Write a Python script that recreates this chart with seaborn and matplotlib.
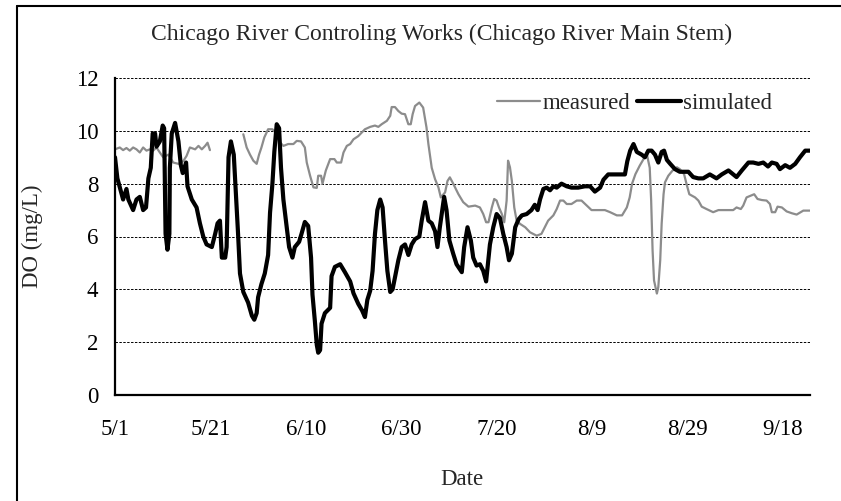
import numpy as np
import pandas as pd
import matplotlib
matplotlib.use('Agg')
import matplotlib.pyplot as plt
from matplotlib.lines import Line2D
import seaborn as sns

# --- data (days after 5/1, DO in mg/L) ---
start = pd.Timestamp('2001-05-01')
tick_days = [0, 20, 40, 60, 80, 100, 120, 140]
tick_labels = ['5/1', '5/21', '6/10', '6/30', '7/20', '8/9', '8/29', '9/18']

sim_day = [0.0, 0.5, 1.7, 2.4, 2.8, 3.8, 4.5, 5.2, 5.9, 6.5, 7.0, 7.5, 7.9, 8.4, 8.7, 9.4,
           10.0, 10.3, 10.6, 11.0, 11.4, 11.5, 11.9, 12.6, 13.3, 13.8, 14.2, 14.9, 15.2, 16.1,
           17.1, 17.8, 18.5, 19.2, 20.3, 21.0, 21.5, 22.0, 22.4, 23.1, 23.4, 23.8, 24.3, 24.9,
           25.8, 26.2, 26.9, 27.9, 28.7, 29.2, 29.7, 30.0, 30.7, 31.4, 32.1, 32.5, 33.0, 33.4,
           33.9, 34.4, 34.8, 35.3, 36.0, 36.5, 37.2, 37.7, 38.6, 39.1, 39.8, 40.5, 41.1, 41.4,
           41.9, 42.3, 42.6, 43.0, 43.3, 44.0, 45.1, 45.4, 46.1, 47.2, 48.2, 49.3, 50.0, 51.0,
           51.8, 52.4, 52.9, 53.5, 54.0, 54.5, 55.0, 55.6, 56.1, 56.6, 57.1, 57.7, 58.2, 58.7,
           59.4, 60.1, 60.8, 61.5, 62.2, 62.9, 63.8, 64.3, 65.0, 65.7, 66.4, 67.1, 67.6, 68.1,
           69.0, 69.5, 70.1, 70.9, 71.6, 72.7, 73.2, 73.9, 74.6, 75.1, 75.8, 76.5, 77.2, 77.8,
           78.6, 79.3, 80.0, 80.7, 81.4, 82.1, 82.6, 83.2, 83.9, 84.6, 85.3, 86.3, 87.3, 88.0,
           88.6, 89.1, 89.8, 90.5, 91.2, 91.9, 92.6, 93.6, 94.7, 95.7, 97.1, 98.5, 99.6, 100.6,
           101.7, 102.4, 103.4, 104.8, 106.9, 107.4, 108.0, 108.7, 109.4, 110.4, 111.1, 111.8,
           112.5, 113.2, 113.9, 114.6, 115.1, 115.7, 116.4, 117.4, 118.4, 120.2, 121.2, 122.3,
           123.3, 124.7, 126.1, 127.2, 128.6, 129.6, 130.3, 131.4, 132.8, 133.8, 134.9, 135.9,
           136.9, 137.7, 138.7, 139.4, 140.5, 141.5, 142.6, 143.6, 144.7, 145.7]
sim_do = [9.0, 8.2, 7.4, 7.8, 7.4, 7.0, 7.4, 7.5, 7.0, 7.1, 8.2, 8.6, 9.9, 9.9, 9.4, 9.6,
          10.2, 10.1, 6.1, 5.5, 6.1, 8.6, 9.9, 10.3, 9.6, 8.7, 8.4, 8.8, 7.9, 7.4,
          7.1, 6.5, 6.0, 5.7, 5.6, 6.1, 6.5, 6.6, 5.2, 5.2, 5.6, 9.0, 9.6, 9.1,
          6.1, 4.6, 3.9, 3.5, 3.0, 2.85, 3.1, 3.7, 4.2, 4.6, 5.3, 6.9, 8.0, 9.2,
          10.25, 10.1, 8.6, 7.4, 6.35, 5.6, 5.2, 5.6, 5.8, 6.1, 6.55, 6.4, 5.2, 3.8,
          2.8, 1.9, 1.6, 1.7, 2.7, 3.1, 3.3, 4.5, 4.85, 4.95, 4.65, 4.3, 3.85, 3.45,
          3.2, 2.95, 3.6, 3.95, 4.7, 6.1, 7.0, 7.4, 7.1, 5.85, 4.7, 3.9, 4.0, 4.45,
          5.1, 5.6, 5.7, 5.3, 5.7, 5.9, 6.0, 6.6, 7.3, 6.6, 6.5, 6.2, 5.6, 6.35,
          7.5, 7.0, 5.85, 5.35, 4.95, 4.65, 5.6, 6.35, 5.85, 5.2, 4.9, 4.95, 4.7, 4.3,
          5.7, 6.35, 6.85, 6.7, 6.1, 5.6, 5.1, 5.35, 6.35, 6.65, 6.8, 6.85, 7.0, 7.2,
          7.0, 7.4, 7.8, 7.85, 7.75, 7.9, 7.85, 8.0, 7.9, 7.85, 7.85, 7.9, 7.9, 7.7,
          7.85, 8.15, 8.35, 8.35, 8.35, 8.85, 9.25, 9.5, 9.2, 9.1, 9.0, 9.25,
          9.25, 9.1, 8.8, 9.2, 9.25, 8.9, 8.75, 8.55, 8.45, 8.45, 8.25, 8.2,
          8.2, 8.35, 8.2, 8.35, 8.5, 8.35, 8.25, 8.5, 8.8, 8.8, 8.75, 8.8,
          8.65, 8.8, 8.75, 8.55, 8.7, 8.6, 8.75, 9.0, 9.25, 9.25]

# measured record has a gap between ~5/20 and ~5/28
meas_day_a = [0.0, 1.0, 1.7, 2.4, 3.1, 3.8, 4.5, 5.2, 5.9, 6.6, 7.3, 8.0, 8.7, 9.4, 10.1, 11.2,
              12.2, 13.3, 14.3, 15.0, 15.7, 16.8, 17.5, 18.2, 18.9, 19.4, 19.9]
meas_do_a = [9.3, 9.37, 9.27, 9.35, 9.25, 9.37, 9.3, 9.18, 9.37, 9.25, 9.3, 9.25, 9.37, 9.18, 9.0, 9.1,
             8.8, 8.75, 8.85, 9.05, 9.37, 9.3, 9.43, 9.3, 9.43, 9.55, 9.27]

meas_day_b = [26.9, 27.6, 28.3, 29.0, 29.7, 30.2, 30.7, 31.3, 32.1, 33.0, 33.7, 34.6, 35.3, 36.3,
              37.4, 38.1, 39.0, 39.8, 40.2, 40.9, 41.6, 42.3, 42.6, 43.2, 43.5, 44.2, 45.1, 46.0,
              46.5, 47.4, 47.9, 48.6, 49.3, 50.0, 51.0, 52.4, 53.5, 54.5, 55.2, 55.9, 57.0, 57.7,
              58.0, 58.7, 59.4, 60.1, 60.8, 61.5, 62.0, 62.4, 62.9, 63.8, 64.6, 65.3, 65.7, 66.4,
              67.1, 67.8, 68.3, 69.2, 69.7, 70.2, 70.9, 72.0, 73.0, 74.1, 75.5, 76.5, 77.2, 77.8,
              78.3, 79.0, 79.5, 80.0, 80.5, 81.1, 81.6, 82.1, 82.4, 82.8, 83.2, 83.7, 84.2, 84.9,
              86.0, 87.0, 88.4, 89.4, 90.1, 90.8, 91.9, 92.6, 93.3, 94.0, 94.7, 95.7, 96.8, 97.8,
              98.9, 99.9, 101.3, 102.7, 103.8, 105.2, 106.3, 107.3, 107.9, 108.4, 109.1, 110.0,
              110.8, 111.5, 112.1, 112.4, 112.7, 113.0, 113.6, 113.9, 114.3, 114.6, 115.0, 115.3,
              116.0, 116.9, 117.8, 118.4, 119.3, 119.8, 120.4, 121.6, 122.3, 123.0, 124.0, 125.4,
              126.5, 128.3, 129.6, 130.3, 131.2, 131.7, 132.4, 133.3, 134.0, 134.7, 135.6, 136.6,
              137.3, 137.7, 138.4, 138.9, 139.8, 140.8, 141.9, 142.9, 144.3, 145.7]
meas_do_b = [9.87, 9.37, 9.1, 8.87, 8.75, 9.1, 9.37, 9.75, 10.06, 10.06, 9.94, 9.56, 9.43, 9.5,
             9.5, 9.62, 9.6, 9.37, 8.8, 8.3, 7.86, 7.84, 8.3, 8.3, 8.0, 8.5, 8.93, 8.93,
             8.8, 8.8, 9.18, 9.43, 9.5, 9.68, 9.8, 10.06, 10.15, 10.2, 10.15, 10.25, 10.38, 10.57,
             10.9, 10.9, 10.75, 10.65, 10.63, 10.25, 10.25, 10.63, 10.94, 11.07, 10.88, 10.13, 9.5, 8.6,
             8.17, 7.86, 7.48, 7.67, 8.1, 8.24, 8.0, 7.6, 7.3, 7.13, 7.17, 7.1, 6.85, 6.54,
             6.54, 7.1, 7.42, 7.36, 7.1, 6.85, 6.54, 7.36, 8.87, 8.62, 8.1, 7.1, 6.6, 6.48,
             6.35, 6.16, 6.03, 6.1, 6.35, 6.6, 6.8, 7.04, 7.36, 7.36, 7.23, 7.23, 7.36, 7.36,
             7.17, 7.0, 7.0, 7.0, 6.92, 6.8, 6.8, 7.1, 7.48, 8.0, 8.36, 8.68,
             8.93, 9.12, 8.6, 7.36, 5.47, 4.34, 3.84, 4.09, 5.1, 6.48, 7.6, 8.05,
             8.3, 8.5, 8.62, 8.55, 8.36, 8.0, 7.6, 7.48, 7.36, 7.13, 7.04, 6.92,
             7.0, 7.0, 7.0, 7.1, 7.04, 7.17, 7.48, 7.55, 7.6, 7.42, 7.38, 7.36,
             7.23, 6.92, 6.92, 7.13, 7.1, 6.95, 6.88, 6.83, 6.98, 6.98]


def to_dates(days):
    return start + pd.to_timedelta(np.asarray(days), unit='D')


sim_df = pd.DataFrame({'date': to_dates(sim_day), 'DO': sim_do})
meas_df = pd.concat([
    pd.DataFrame({'date': to_dates(meas_day_a), 'DO': meas_do_a, 'seg': 0}),
    pd.DataFrame({'date': to_dates(meas_day_b), 'DO': meas_do_b, 'seg': 1}),
], ignore_index=True)

sns.set_style('white')
plt.rcParams['font.family'] = ['Liberation Serif', 'DejaVu Serif']
fs = 16.5

fig = plt.figure(figsize=(8.41, 5.01), dpi=100)
ax = fig.add_axes([115 / 841, 1 - 395 / 501, 695 / 841, 317 / 501])

sns.lineplot(data=meas_df, x='date', y='DO', units='seg', estimator=None,
             color='#8c8c8c', linewidth=1.6, label='measured', ax=ax)
sns.lineplot(data=sim_df, x='date', y='DO', color='black', linewidth=3.0,
             label='simulated', ax=ax)

ax.set_ylim(0, 12)
ax.set_yticks(range(0, 13, 2))
ax.set_xlim(start, start + pd.Timedelta(days=145.7))
ax.set_xticks(to_dates(tick_days))
ax.set_xticklabels(tick_labels)

for v in range(2, 13, 2):
    ax.axhline(v, color='black', linewidth=0.7, linestyle=(0, (2.5, 1.5)), zorder=0)

sns.despine(ax=ax)
for side in ['left', 'bottom']:
    ax.spines[side].set_linewidth(1.6)
    ax.spines[side].set_color('black')
ax.tick_params(axis='both', direction='out', length=6, width=1.6, colors='black', labelsize=fs)
ax.tick_params(axis='x', pad=11)
ax.tick_params(axis='y', pad=6)

ax.set_xlabel('Date', fontsize=fs)
ax.set_ylabel('DO (mg/L)', fontsize=fs)
ax.xaxis.set_label_coords(0.499, -0.235)
ax.yaxis.set_label_coords(-0.104, 0.5)
ax.text(0.47, 1.136, 'Chicago River Controling Works (Chicago River Main Stem)',
        transform=ax.transAxes, ha='center', va='center', fontsize=17)

# one legend entry per series (measured is drawn as two segments)
handles, labels = ax.get_legend_handles_labels()
uniq = dict(zip(labels, handles))
ax.legend(list(uniq.values()), list(uniq.keys()), loc='center', bbox_to_anchor=(0.747, 0.921),
          ncol=2, frameon=False, fontsize=fs, handlelength=1.9, handletextpad=0.1,
          columnspacing=0.3)

# outer chart-area border (only left and top edges fall inside the image)
fig.add_artist(Line2D([17 / 841, 17 / 841], [0, 1 - 6 / 501], transform=fig.transFigure,
                      color='black', linewidth=1.5))
fig.add_artist(Line2D([17 / 841, 1], [1 - 6 / 501, 1 - 6 / 501], transform=fig.transFigure,
                      color='black', linewidth=1.5))

fig.savefig('out.png', dpi=100)
